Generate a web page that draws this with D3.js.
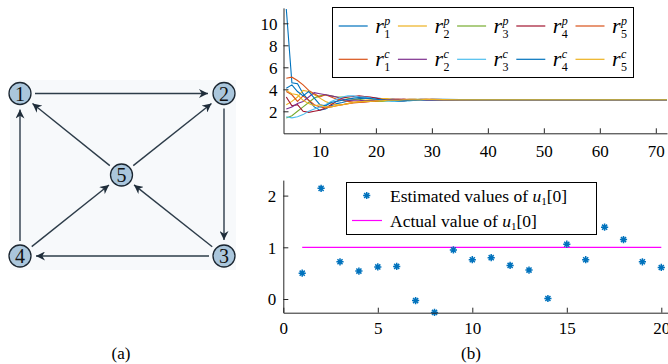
<!DOCTYPE html>
<html>
<head>
<meta charset="utf-8">
<script src="https://cdn.jsdelivr.net/npm/d3@7"></script>
<style>
  body { margin: 0; background: #fff; }
  svg { display: block; }
</style>
</head>
<body>
<svg id="fig" width="668" height="364"></svg>
<script>
// ---- data ----
// graph (a)
var nodeIds = [1, 2, 3, 4, 5];
var edgeList = [[1, 2], [2, 3], [3, 4], [4, 1], [5, 1], [5, 2], [4, 5], [3, 5]];

// top panel of (b): iterations and the ten sequences
var iters = [4, 5, 6, 7, 8, 9, 10, 11, 12, 13, 14, 15, 16, 17, 18, 19, 20, 21, 22, 23, 24, 25, 26, 27, 28, 29, 30, 32, 35, 40, 45, 55, 65, 72];
var r1p = [11.3, 4.6, 4.5, 3.6, 3.0, 2.4, 2.1, 2.2, 2.5, 2.7, 2.8, 2.95, 3.05, 3.15, 3.2, 3.25, 3.2, 3.15, 3.1, 3.1, 3.05, 3.0, 3.0, 3.0, 3.05, 3.05, 3.1, 3.1, 3.07, 3.05, 3.05, 3.05, 3.05, 3.05];
var r2p = [2.6, 2.9, 3.3, 3.9, 3.8, 3.5, 3.2, 2.9, 2.7, 2.6, 2.6, 2.7, 2.8, 2.9, 3.0, 3.05, 3.1, 3.15, 3.15, 3.1, 3.1, 3.05, 3.05, 3.0, 3.0, 3.0, 3.0, 3.02, 3.04, 3.05, 3.05, 3.05, 3.05, 3.05];
var r3p = [1.4, 1.6, 2.0, 2.4, 2.8, 3.2, 3.4, 3.5, 3.4, 3.3, 3.3, 3.2, 3.1, 3.1, 3.0, 2.95, 2.9, 2.9, 2.95, 3.0, 3.0, 3.05, 3.1, 3.1, 3.1, 3.08, 3.05, 3.04, 3.05, 3.05, 3.05, 3.05, 3.05, 3.05];
var r4p = [3.3, 2.5, 2.6, 2.0, 1.9, 2.0, 2.1, 2.3, 2.6, 2.9, 3.2, 3.3, 3.35, 3.4, 3.35, 3.3, 3.2, 3.1, 3.0, 2.95, 2.9, 2.95, 3.0, 3.05, 3.1, 3.1, 3.08, 3.06, 3.05, 3.05, 3.05, 3.05, 3.05, 3.05];
var r5p = [5.0, 5.1, 4.8, 4.4, 3.9, 3.6, 3.3, 3.5, 3.3, 3.1, 3.0, 2.9, 2.85, 2.8, 2.85, 2.9, 2.95, 3.0, 3.05, 3.1, 3.1, 3.1, 3.05, 3.05, 3.0, 3.0, 3.0, 3.02, 3.04, 3.05, 3.05, 3.05, 3.05, 3.05];
var r1c = [3.8, 3.5, 2.9, 3.4, 3.0, 2.6, 2.4, 2.3, 2.4, 2.5, 2.6, 2.7, 2.75, 2.8, 2.85, 2.9, 2.95, 3.0, 3.0, 3.05, 3.05, 3.1, 3.1, 3.1, 3.05, 3.05, 3.05, 3.05, 3.05, 3.05, 3.05, 3.05, 3.05, 3.05];
var r2c = [2.2, 2.4, 2.7, 2.9, 3.3, 3.7, 3.6, 3.5, 3.4, 3.3, 3.1, 3.0, 3.0, 3.0, 2.95, 2.95, 3.0, 3.0, 3.05, 3.1, 3.1, 3.1, 3.05, 3.05, 3.0, 3.0, 3.02, 3.04, 3.05, 3.05, 3.05, 3.05, 3.05, 3.05];
var r3c = [1.5, 1.4, 1.5, 1.7, 2.0, 2.2, 2.4, 2.6, 2.9, 3.1, 3.3, 3.4, 3.4, 3.3, 3.3, 3.2, 3.1, 3.0, 2.95, 2.9, 2.9, 2.95, 2.95, 3.0, 3.0, 3.05, 3.05, 3.05, 3.05, 3.05, 3.05, 3.05, 3.05, 3.05];
var r4c = [4.1, 4.4, 3.8, 3.4, 3.8, 3.2, 2.6, 2.5, 2.8, 2.9, 3.0, 3.1, 3.2, 3.25, 3.2, 3.15, 3.1, 3.05, 3.0, 3.0, 2.95, 2.95, 3.0, 3.0, 3.05, 3.05, 3.05, 3.05, 3.05, 3.05, 3.05, 3.05, 3.05, 3.05];
var r5c = [3.9, 3.6, 3.5, 3.0, 2.7, 2.5, 2.6, 2.4, 2.4, 2.5, 2.6, 2.7, 2.8, 2.85, 2.9, 2.9, 2.95, 2.95, 3.0, 3.0, 3.0, 3.05, 3.05, 3.05, 3.05, 3.1, 3.08, 3.06, 3.05, 3.05, 3.05, 3.05, 3.05, 3.05];

var seriesNames = ["r1p", "r2p", "r3p", "r4p", "r5p", "r1c", "r2c", "r3c", "r4c", "r5c"];
var seriesValues = [r1p, r2p, r3p, r4p, r5p, r1c, r2c, r3c, r4c, r5c];
var seriesSup = ["p", "p", "p", "p", "p", "c", "c", "c", "c", "c"];
var seriesSub = ["1", "2", "3", "4", "5", "1", "2", "3", "4", "5"];
var seriesColors = ["#0072BD", "#EDB120", "#77AC30", "#A2142F", "#D95319",
                    "#D95319", "#7E2F8E", "#4DBEEE", "#0072BD", "#EDB120"];
var topXTicks = [10, 20, 30, 40, 50, 60, 70];
var topYTicks = [2, 4, 6, 8, 10];

// bottom panel of (b)
var trial = [1, 2, 3, 4, 5, 6, 7, 8, 9, 10, 11, 12, 13, 14, 15, 16, 17, 18, 19, 20];
var estimated = [0.5, 2.14, 0.72, 0.54, 0.62, 0.63, -0.03, -0.26, 0.95, 0.76, 0.8, 0.65, 0.56, 0.01, 1.06, 0.76, 1.39, 1.15, 0.72, 0.61];
var actualValue = 1;
var botXTicks = [0, 5, 10, 15, 20];
var botYTicks = [0, 1, 2];

var svg = d3.select("#fig");
var axisColor = "#262626";

// ---- (a) directed graph ----
var nodePos = {1: [20, 93.5], 2: [224, 93.5], 3: [224, 256], 4: [20, 256], 5: [121.5, 175]};
var nodeR = 11;

var gA = svg.append("g");
gA.append("rect")
  .attr("x", 10).attr("y", 80).attr("width", 226).attr("height", 190)
  .attr("fill", "#f7f9fb");

svg.append("defs").append("marker")
  .attr("id", "arrow")
  .attr("viewBox", "0 0 10 10")
  .attr("refX", 10).attr("refY", 5)
  .attr("markerWidth", 9).attr("markerHeight", 9)
  .attr("markerUnits", "userSpaceOnUse")
  .attr("orient", "auto")
  .append("path")
  .attr("d", "M0,0 L10,5 L0,10 L3,5 Z")
  .attr("fill", "#1f2d3a");

edgeList.forEach(function(e) {
  var a = nodePos[e[0]], b = nodePos[e[1]];
  var dx = b[0] - a[0], dy = b[1] - a[1];
  var len = Math.sqrt(dx * dx + dy * dy);
  var ux = dx / len, uy = dy / len;
  var s0 = nodeR + 4, s1 = nodeR + 5;
  gA.append("line")
    .attr("x1", a[0] + ux * s0).attr("y1", a[1] + uy * s0)
    .attr("x2", b[0] - ux * s1).attr("y2", b[1] - uy * s1)
    .attr("stroke", "#2d3c49")
    .attr("stroke-width", 1.4)
    .attr("marker-end", "url(#arrow)");
});

var nodes = gA.selectAll(".node").data(nodeIds).enter().append("g")
  .attr("transform", function(d) { return "translate(" + nodePos[d][0] + "," + nodePos[d][1] + ")"; });
nodes.append("circle")
  .attr("r", nodeR)
  .attr("fill", "#aac6dc")
  .attr("stroke", "#1b2631")
  .attr("stroke-width", 1.3);
nodes.append("text")
  .attr("text-anchor", "middle")
  .attr("y", 7)
  .attr("font-size", 20)
  .attr("fill", "#111")
  .text(function(d) { return d; });

svg.append("text").attr("x", 121).attr("y", 359).attr("text-anchor", "middle")
  .attr("font-size", 17).text("(a)");
svg.append("text").attr("x", 471).attr("y", 359).attr("text-anchor", "middle")
  .attr("font-size", 17).text("(b)");

// ---- (b) top: convergence ----
var xTop = d3.scaleLinear().domain([3.5, 72]).range([283.5, 667]);
var yTop = d3.scaleLinear().domain([0, 11.4]).range([133.3, 7.9]);

svg.append("clipPath").attr("id", "clipTop").append("rect")
  .attr("x", 283.5).attr("y", 0).attr("width", 400).attr("height", 133.3);

var line = d3.line()
  .x(function(d, i) { return xTop(iters[i]); })
  .y(function(d) { return yTop(d); });

var gTop = svg.append("g").attr("clip-path", "url(#clipTop)");
gTop.selectAll(".series").data(seriesValues).enter().append("path")
  .attr("d", line)
  .attr("fill", "none")
  .attr("stroke", function(d, i) { return seriesColors[i]; })
  .attr("stroke-width", 1.1);

var axTopX = svg.append("g").attr("transform", "translate(0," + yTop(0) + ")")
  .call(d3.axisBottom(xTop).tickValues(topXTicks).tickFormat(d3.format("d"))
    .tickSizeInner(-5).tickSizeOuter(0).tickPadding(12));
var axTopY = svg.append("g").attr("transform", "translate(" + xTop(3.5) + ",0)")
  .call(d3.axisLeft(yTop).tickValues(topYTicks).tickFormat(d3.format("d"))
    .tickSizeInner(-5).tickSizeOuter(0).tickPadding(6));

// ---- (b) bottom: estimates ----
var xBot = d3.scaleLinear().domain([0, 21]).range([283.3, 680.2]);
var yBot = d3.scaleLinear().domain([-0.265, 2.3]).range([312.7, 180.1]);

svg.append("line")
  .attr("x1", xBot(1)).attr("x2", xBot(20))
  .attr("y1", yBot(actualValue)).attr("y2", yBot(actualValue))
  .attr("stroke", "#FF00FF").attr("stroke-width", 1.2);

function asterisk(s) {
  var d = s * 0.7071;
  return "M" + (-s) + ",0L" + s + ",0M0," + (-s) + "L0," + s +
         "M" + (-d) + "," + (-d) + "L" + d + "," + d + "M" + (-d) + "," + d + "L" + d + "," + (-d);
}

svg.selectAll(".est").data(estimated).enter().append("path")
  .attr("transform", function(d, i) { return "translate(" + xBot(trial[i]) + "," + yBot(d) + ")"; })
  .attr("d", asterisk(3.6))
  .attr("fill", "none")
  .attr("stroke", "#0072BD")
  .attr("stroke-width", 1.5);

var axBotX = svg.append("g").attr("transform", "translate(0," + yBot(-0.265) + ")")
  .call(d3.axisBottom(xBot).tickValues(botXTicks).tickFormat(d3.format("d"))
    .tickSizeInner(-5).tickSizeOuter(0).tickPadding(9));
var axBotY = svg.append("g").attr("transform", "translate(" + xBot(0) + ",0)")
  .call(d3.axisLeft(yBot).tickValues(botYTicks).tickFormat(d3.format("d"))
    .tickSizeInner(-5).tickSizeOuter(0).tickPadding(7));

[axTopX, axTopY, axBotX, axBotY].forEach(function(ax) {
  ax.attr("font-size", 17);
  ax.select(".domain").attr("stroke", axisColor);
  ax.selectAll(".tick line").attr("stroke", axisColor);
  ax.selectAll(".tick text").attr("fill", "#000");
});
axTopY.selectAll(".tick text").attr("dy", "0.34em");
axBotY.selectAll(".tick text").attr("dy", "0.34em");

// ---- legends ----
var legTop = svg.append("g");
legTop.append("rect")
  .attr("x", 332.5).attr("y", 7.5).attr("width", 301).attr("height", 70)
  .attr("fill", "#fff").attr("stroke", "#000").attr("stroke-width", 1);

seriesNames.forEach(function(n, i) {
  var col = i % 5, row = Math.floor(i / 5);
  var x0 = 338.7 + col * 59.2, cy = row === 0 ? 26 : 59.3;
  legTop.append("line")
    .attr("x1", x0).attr("x2", x0 + 29).attr("y1", cy).attr("y2", cy)
    .attr("stroke", seriesColors[i]).attr("stroke-width", 1.2);
  var lx = x0 + 36.5;
  legTop.append("text").attr("x", lx).attr("y", cy + 7)
    .attr("font-size", 22).attr("font-style", "italic").text("r");
  legTop.append("text").attr("x", lx + 9).attr("y", cy - 1)
    .attr("font-size", 12).attr("font-style", "italic").text(seriesSup[i]);
  legTop.append("text").attr("x", lx + 9).attr("y", cy + 12)
    .attr("font-size", 12).text(seriesSub[i]);
});

var legBot = svg.append("g");
legBot.append("rect")
  .attr("x", 346.5).attr("y", 182.5).attr("width", 250).attr("height", 52)
  .attr("fill", "#fff").attr("stroke", "#000").attr("stroke-width", 1);
legBot.append("path")
  .attr("transform", "translate(366.7,195.5)")
  .attr("d", asterisk(3.6))
  .attr("fill", "none").attr("stroke", "#0072BD").attr("stroke-width", 1.5);
legBot.append("line")
  .attr("x1", 352).attr("x2", 382).attr("y1", 220.5).attr("y2", 220.5)
  .attr("stroke", "#FF00FF").attr("stroke-width", 1.2);

var legLabels = ["Estimated values of ", "Actual value of "];
legLabels.forEach(function(t, i) {
  var txt = legBot.append("text").attr("x", 390).attr("y", i === 0 ? 201.5 : 227)
    .attr("font-size", 17.5);
  txt.append("tspan").text(t);
  txt.append("tspan").attr("font-style", "italic").text("u");
  txt.append("tspan").attr("font-size", 11).attr("dy", 3).text("1");
  txt.append("tspan").attr("dy", -3).text("[0]");
});

// Times-like face everywhere
svg.selectAll("text").style("font-family", "'Liberation Serif'");
</script>
</body>
</html>
